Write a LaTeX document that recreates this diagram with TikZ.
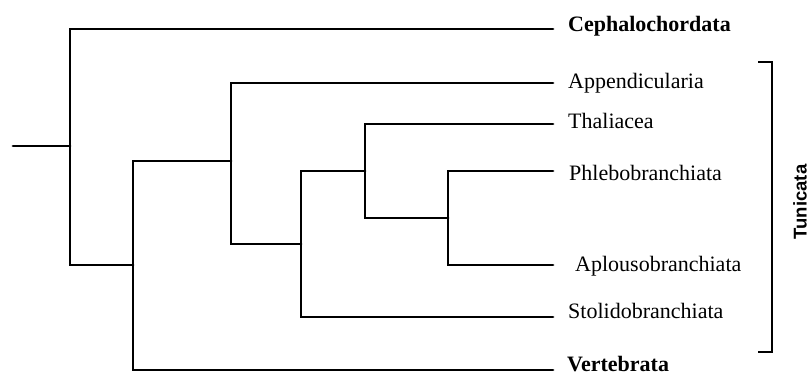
\documentclass[tikz,border=0pt]{standalone}
\usepackage{fontspec}
\setmainfont{Liberation Serif}
\newfontfamily\tunifont{Liberation Sans}
\begin{document}
\begin{tikzpicture}[x=1pt,y=-1pt,
  branch/.style={line width=2.8pt,line cap=round,line join=miter},
  taxon/.style={anchor=base west,inner sep=0pt,font=\fontsize{22}{26}\selectfont},
  major/.style={taxon,font=\fontsize{22}{26}\selectfont\bfseries}]
\useasboundingbox (0,0) rectangle (809,376);
% labels
\node[major] (ceph) at (568,31.5) {Cephalochordata};
\node[taxon] (app) at (568,88) {Appendicularia};
\node[taxon] (tha) at (568,128) {Thaliacea};
\node[taxon] (phl) at (569,180) {Phlebobranchiata};
\node[taxon] (apl) at (575,271) {Aplousobranchiata};
\node[taxon] (sto) at (568,318) {Stolidobranchiata};
\node[major] (ver) at (567,371.5) {Vertebrata};
\node[rotate=90,inner sep=0pt,font=\tunifont\fontsize{18.5}{22}\selectfont\bfseries] (tun) at (800,202) {Tunicata};
% tips
\coordinate (tceph) at (553,29);
\coordinate (tapp) at (553,83);
\coordinate (ttha) at (553,124);
\coordinate (tphl) at (553,171);
\coordinate (tapl) at (553,265);
\coordinate (tsto) at (553,317);
\coordinate (tver) at (553,370);
% internal nodes
\coordinate (root) at (13,146);
\coordinate (n1) at (70,146);
\coordinate (n2) at (133,265);
\coordinate (n3) at (231,161);
\coordinate (n4) at (301,244);
\coordinate (n5) at (365,171);
\coordinate (n6) at (448,218);
% branches
\draw[branch] (root) -- (n1);
\draw[branch] (tceph) -| (n1 |- tceph) -- (n1 |- n2) -- (n2);
\draw[branch] (n3) -| (n2 |- n3) -- (n2 |- tver) -- (tver);
\draw[branch] (tapp) -| (n3 |- tapp) -- (n3 |- n4) -- (n4);
\draw[branch] (n5) -| (n4 |- n5) -- (n4 |- tsto) -- (tsto);
\draw[branch] (ttha) -| (n5 |- ttha) -- (n5 |- n6) -- (n6);
\draw[branch] (tphl) -| (n6 |- tphl) -- (n6 |- tapl) -- (tapl);
% bracket
\coordinate (b1) at (758,62);
\coordinate (b2) at (758,352);
\draw[line width=2.2pt] (b1) -- (772,62) -- (772,352) -- (b2);
\end{tikzpicture}
\end{document}
